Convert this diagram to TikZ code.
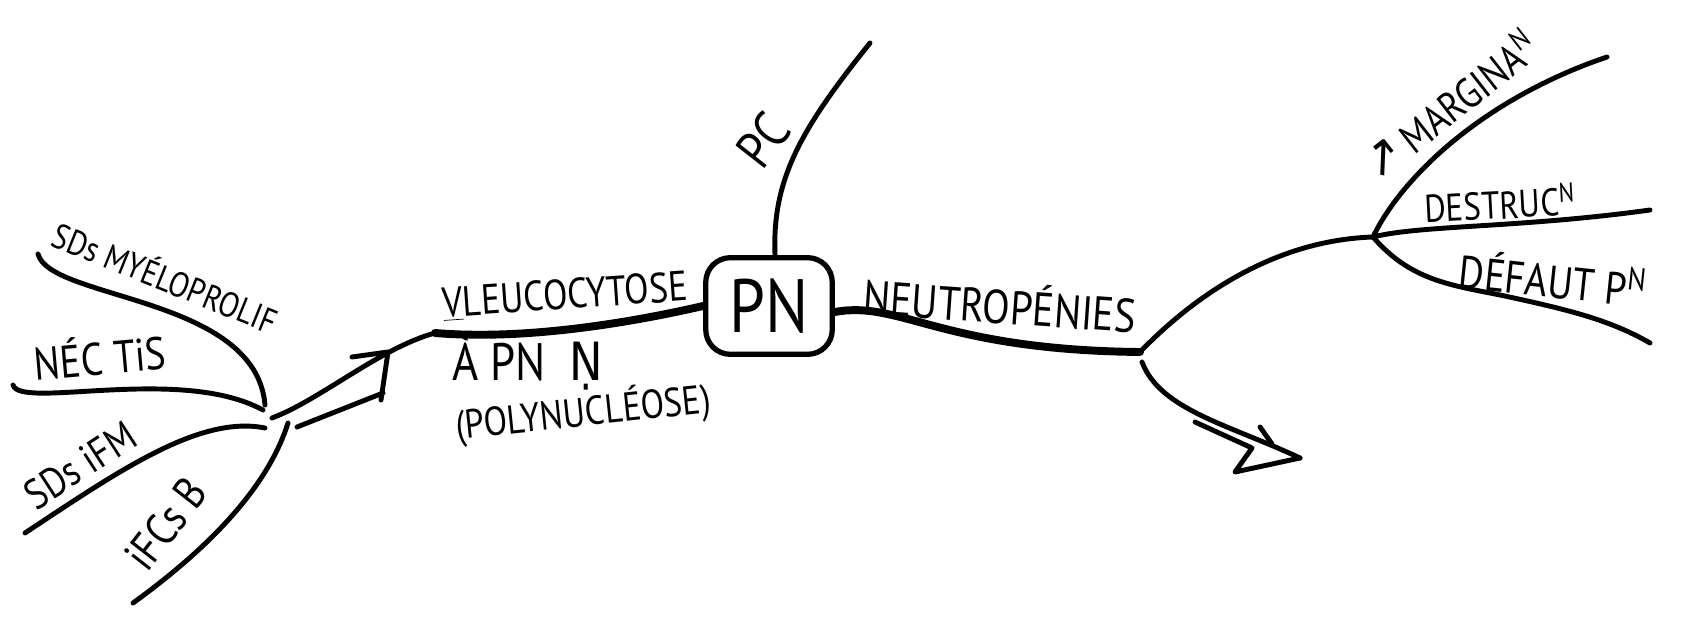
\documentclass[tikz,border=0pt]{standalone}
\usepackage{fontspec}
\setmainfont{PT Sans}[FakeStretch=0.85]
\newfontfamily\symfont{DejaVu Sans}[FakeStretch=0.85]
\usetikzlibrary{calc}

\tikzset{
  branch/.style={line width=2.8pt, line cap=round, line join=round},
  trunk/.style={line width=4.5pt, line cap=round},
  lbl/.style={inner sep=0pt, font=\fontsize{#1}{#1}\selectfont},
  pnbox/.style={draw, line width=3pt, rounded corners=14pt, minimum width=72pt, minimum height=55pt, inner sep=0pt, font=\fontsize{43}{43}\selectfont}
}

\begin{document}
\begin{tikzpicture}[x=0.02cm, y=-0.02cm]
\useasboundingbox[fill=white] (0,0) rectangle (1702,618);

% centre
\node[pnbox] (pn) at (769,306) {PN};

% left hub and its causes
\coordinate (hubL) at (267,412);
\coordinate (myelo) at (38,254);
\coordinate (nec) at (13,385);
\coordinate (ifm) at (25,533);
\coordinate (ifcs) at (133,603);
\draw[branch] (myelo) .. controls (50,300) and (256,296) .. (265,405);
\draw[branch] (nec) .. controls (20,410) and (180,365) .. (263,410);
\draw[branch] (ifm) .. controls (120,470) and (200,415) .. (265,428);
\draw[branch] (ifcs) .. controls (220,540) and (270,480) .. (288,423);

% hand drawn double arrow into the trunk
\coordinate (join) at (435,333);
\coordinate (tipL) at (388,352);
\draw[branch] (272,418) .. controls (320,400) and (380,348) .. (join);
\draw[branch] (297,427) -- (383,393);
\draw[branch] (352,357) -- (tipL) -- (381,400);
\draw[trunk] (join) .. controls (520,340) and (620,325) .. (pn.west);

% PC
\coordinate (pc) at (870,43);
\draw[branch] ($(pn.north)+(6,0)$) .. controls (772,180) and (800,130) .. (pc);

% right side
\coordinate (hubR) at (1140,352);
\coordinate (hubR2) at (1373,237);
\draw[trunk] ($(pn.east)+(0,6)$) .. controls (900,300) and (940,350) .. (hubR);
\draw[branch] (hubR) .. controls (1200,290) and (1280,240) .. (hubR2);
\draw[branch] (hubR2) .. controls (1400,180) and (1480,100) .. (1607,57);
\draw[branch] (hubR2) .. controls (1420,225) and (1520,228) .. (1650,210);
\draw[branch] (hubR2) .. controls (1410,280) and (1450,285) .. (1500,295)
  .. controls (1570,310) and (1610,320) .. (1650,343);

% arrow going down right
\coordinate (tipR) at (1300,458);
\draw[branch] (1142,362) .. controls (1160,410) and (1230,425) .. (tipR);
\draw[branch] (1195,422) -- (1252,448) -- (1235,472) -- (tipR);
\draw[branch] (1260,427) -- (1272,444);

% labels
\node[lbl=20, rotate=-22] (tmyelo) at (166,276) {SDs MYÉLOPROLIF};
\node[lbl=26, rotate=5] (tnec) at (100,355) {NÉC TiS};
\node[lbl=24, rotate=33] (tifm) at (80,465) {SDs iFM};
\node[lbl=26, rotate=52] (tifcs) at (166,524) {iFCs B};
\node[lbl=24, rotate=4] (tleuco) at (565,296) {\underline{V}LEUCOCYTOSE};
\node[lbl=30] (tapn) at (528,362) {À PN \ {\symfont Ṇ}};
\node[lbl=23, rotate=6] (tpoly) at (583,413) {(POLYNUCLÉOSE)};
\node[lbl=30, rotate=52] (tpc) at (763,140) {PC};
\node[lbl=27, rotate=-4] (tneutro) at (1000,303) {NEUTROPÉNIES};
\node[lbl=24, rotate=38] (tmarg) at (1450,104) {{\symfont\fontsize{30}{30}\selectfont ↗}\,MARGINA\textsuperscript{N}};
\node[lbl=22, rotate=3] (tdestr) at (1500,203) {DESTRUC\textsuperscript{N}};
\node[lbl=26, rotate=-6] (tdefaut) at (1553,278) {DÉFAUT P\textsuperscript{N}};
\end{tikzpicture}
\end{document}
